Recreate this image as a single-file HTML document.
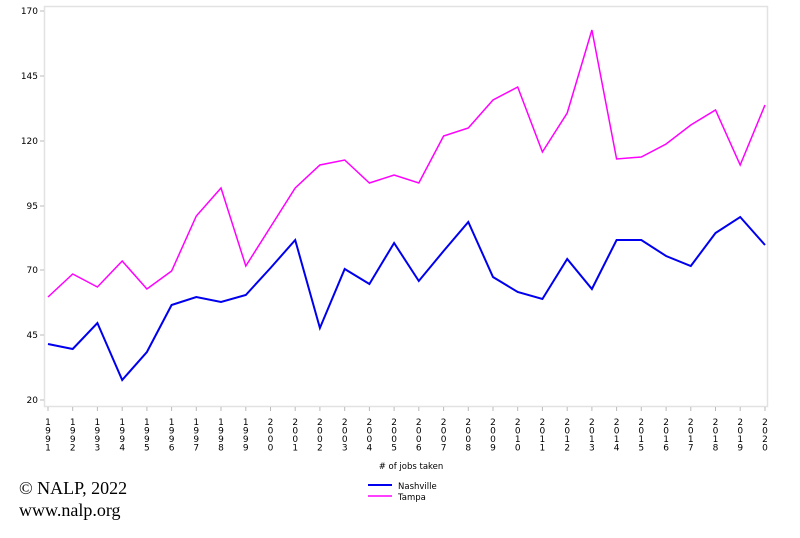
<!DOCTYPE html>
<html><head><style>
body{margin:0;background:#fff;width:800px;height:533px;overflow:hidden}
text{font-family:"DejaVu Sans","Liberation Sans",sans-serif;font-size:9px;fill:#000}
.s{font-family:"Liberation Serif",serif;font-size:18px}
</style></head><body>
<svg width="800" height="533" xmlns="http://www.w3.org/2000/svg">
<rect x="44.5" y="6.5" width="723" height="400" fill="none" stroke="#e2e2e2" stroke-width="1.5"/>
<g stroke="#bbb" stroke-width="1">
<line x1="40" y1="11" x2="44" y2="11"/><line x1="40" y1="76" x2="44" y2="76"/><line x1="40" y1="141" x2="44" y2="141"/><line x1="40" y1="206" x2="44" y2="206"/><line x1="40" y1="270" x2="44" y2="270"/><line x1="40" y1="335" x2="44" y2="335"/><line x1="40" y1="400" x2="44" y2="400"/>
</g>
<g text-anchor="end">
<text x="38" y="14">170</text><text x="38" y="79">145</text><text x="38" y="144">120</text><text x="38" y="209">95</text><text x="38" y="273">70</text><text x="38" y="338">45</text><text x="38" y="403">20</text>
</g>
<g text-anchor="middle" style="font-size:9px">
<text x="48" y="425">1</text><text x="48" y="433.5">9</text><text x="48" y="442">9</text><text x="48" y="450.5">1</text>
<text x="72.7" y="425">1</text><text x="72.7" y="433.5">9</text><text x="72.7" y="442">9</text><text x="72.7" y="450.5">2</text>
<text x="97.4" y="425">1</text><text x="97.4" y="433.5">9</text><text x="97.4" y="442">9</text><text x="97.4" y="450.5">3</text>
<text x="122.2" y="425">1</text><text x="122.2" y="433.5">9</text><text x="122.2" y="442">9</text><text x="122.2" y="450.5">4</text>
<text x="146.9" y="425">1</text><text x="146.9" y="433.5">9</text><text x="146.9" y="442">9</text><text x="146.9" y="450.5">5</text>
<text x="171.6" y="425">1</text><text x="171.6" y="433.5">9</text><text x="171.6" y="442">9</text><text x="171.6" y="450.5">6</text>
<text x="196.3" y="425">1</text><text x="196.3" y="433.5">9</text><text x="196.3" y="442">9</text><text x="196.3" y="450.5">7</text>
<text x="221" y="425">1</text><text x="221" y="433.5">9</text><text x="221" y="442">9</text><text x="221" y="450.5">8</text>
<text x="245.8" y="425">1</text><text x="245.8" y="433.5">9</text><text x="245.8" y="442">9</text><text x="245.8" y="450.5">9</text>
<text x="270.5" y="425">2</text><text x="270.5" y="433.5">0</text><text x="270.5" y="442">0</text><text x="270.5" y="450.5">0</text>
<text x="295.2" y="425">2</text><text x="295.2" y="433.5">0</text><text x="295.2" y="442">0</text><text x="295.2" y="450.5">1</text>
<text x="319.9" y="425">2</text><text x="319.9" y="433.5">0</text><text x="319.9" y="442">0</text><text x="319.9" y="450.5">2</text>
<text x="344.7" y="425">2</text><text x="344.7" y="433.5">0</text><text x="344.7" y="442">0</text><text x="344.7" y="450.5">3</text>
<text x="369.4" y="425">2</text><text x="369.4" y="433.5">0</text><text x="369.4" y="442">0</text><text x="369.4" y="450.5">4</text>
<text x="394.1" y="425">2</text><text x="394.1" y="433.5">0</text><text x="394.1" y="442">0</text><text x="394.1" y="450.5">5</text>
<text x="418.8" y="425">2</text><text x="418.8" y="433.5">0</text><text x="418.8" y="442">0</text><text x="418.8" y="450.5">6</text>
<text x="443.6" y="425">2</text><text x="443.6" y="433.5">0</text><text x="443.6" y="442">0</text><text x="443.6" y="450.5">7</text>
<text x="468.3" y="425">2</text><text x="468.3" y="433.5">0</text><text x="468.3" y="442">0</text><text x="468.3" y="450.5">8</text>
<text x="493" y="425">2</text><text x="493" y="433.5">0</text><text x="493" y="442">0</text><text x="493" y="450.5">9</text>
<text x="517.7" y="425">2</text><text x="517.7" y="433.5">0</text><text x="517.7" y="442">1</text><text x="517.7" y="450.5">0</text>
<text x="542.4" y="425">2</text><text x="542.4" y="433.5">0</text><text x="542.4" y="442">1</text><text x="542.4" y="450.5">1</text>
<text x="567.2" y="425">2</text><text x="567.2" y="433.5">0</text><text x="567.2" y="442">1</text><text x="567.2" y="450.5">2</text>
<text x="591.9" y="425">2</text><text x="591.9" y="433.5">0</text><text x="591.9" y="442">1</text><text x="591.9" y="450.5">3</text>
<text x="616.6" y="425">2</text><text x="616.6" y="433.5">0</text><text x="616.6" y="442">1</text><text x="616.6" y="450.5">4</text>
<text x="641.3" y="425">2</text><text x="641.3" y="433.5">0</text><text x="641.3" y="442">1</text><text x="641.3" y="450.5">5</text>
<text x="666.1" y="425">2</text><text x="666.1" y="433.5">0</text><text x="666.1" y="442">1</text><text x="666.1" y="450.5">6</text>
<text x="690.8" y="425">2</text><text x="690.8" y="433.5">0</text><text x="690.8" y="442">1</text><text x="690.8" y="450.5">7</text>
<text x="715.5" y="425">2</text><text x="715.5" y="433.5">0</text><text x="715.5" y="442">1</text><text x="715.5" y="450.5">8</text>
<text x="740.2" y="425">2</text><text x="740.2" y="433.5">0</text><text x="740.2" y="442">1</text><text x="740.2" y="450.5">9</text>
<text x="765" y="425">2</text><text x="765" y="433.5">0</text><text x="765" y="442">2</text><text x="765" y="450.5">0</text>
</g>
<path stroke="#bbb" d="M48 407v4M72.7 407v4M97.4 407v4M122.2 407v4M146.9 407v4M171.6 407v4M196.3 407v4M221 407v4M245.8 407v4M270.5 407v4M295.2 407v4M319.9 407v4M344.7 407v4M369.4 407v4M394.1 407v4M418.8 407v4M443.6 407v4M468.3 407v4M493 407v4M517.7 407v4M542.4 407v4M567.2 407v4M591.9 407v4M616.6 407v4M641.3 407v4M666.1 407v4M690.8 407v4M715.5 407v4M740.2 407v4M765 407v4"/>
<polyline fill="none" stroke="#0000ee" stroke-width="2" points="48,344 72.7,349 97.4,323 122.2,380 146.9,352 171.6,305 196.3,297 221,302 245.8,295 270.5,268 295.2,240 319.9,328 344.7,269 369.4,284 394.1,243 418.8,281 443.6,251 468.3,222 493,277 517.7,292 542.4,299 567.2,259 591.9,289 616.6,240 641.3,240 666.1,256 690.8,266 715.5,233 740.2,217 765,245"/>
<polyline fill="none" stroke="#ff00ff" stroke-width="1.5" points="48,297 72.7,274 97.4,287 122.2,261 146.9,289 171.6,271 196.3,216 221,188 245.8,266 270.5,227 295.2,188 319.9,165 344.7,160 369.4,183 394.1,175 418.8,183 443.6,136 468.3,128 493,100 517.7,87 542.4,152 567.2,113 591.9,30 616.6,159 641.3,157 666.1,144 690.8,125 715.5,110 740.2,165 765,105"/>
<text x="411" y="469" text-anchor="middle" style="font-size:8.5px"># of jobs taken</text>
<line x1="368" y1="485" x2="392" y2="485" stroke="#0000ee" stroke-width="2"/>
<line x1="368" y1="496" x2="392" y2="496" stroke="#ff00ff" stroke-width="1.5"/>
<text x="398" y="489" style="font-size:8.5px">Nashville</text>
<text x="398" y="500" style="font-size:8.5px">Tampa</text>
<text class="s" x="19" y="494">© NALP, 2022</text>
<text class="s" x="19" y="516">www.nalp.org</text>
</svg>
</body></html>
